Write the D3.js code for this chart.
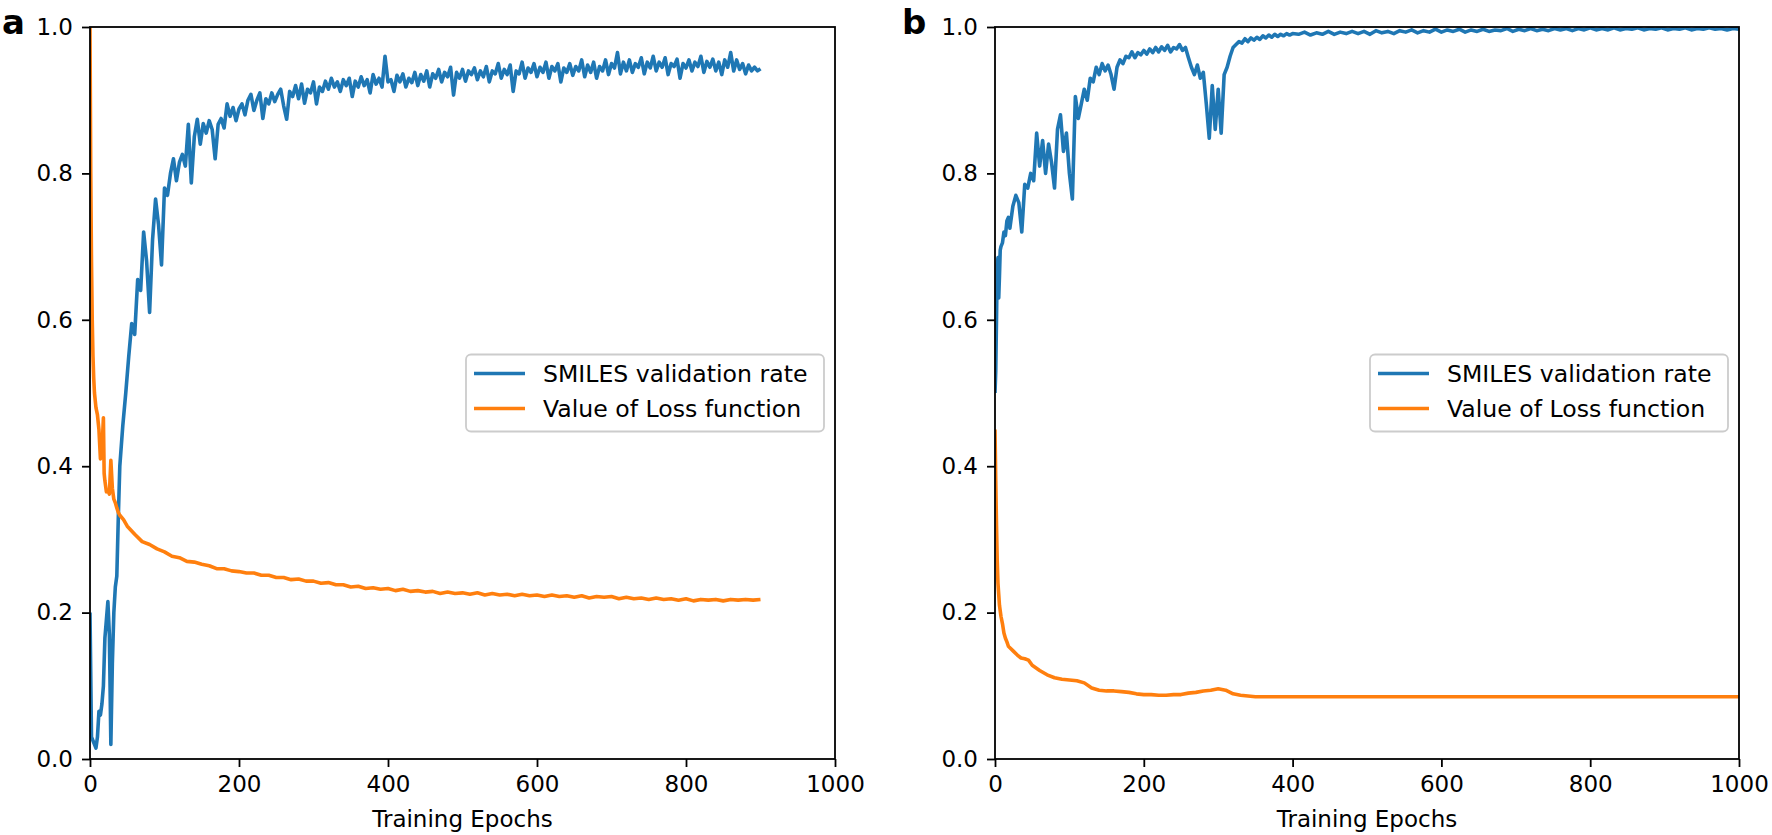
<!DOCTYPE html>
<html><head><meta charset="utf-8">
<script src="https://cdn.jsdelivr.net/npm/d3@7"></script>
<style>body{margin:0;background:#fff;} svg{display:block;} text{font-family:"DejaVu Sans",sans-serif;fill:#000;}</style>
</head><body><svg id="chart" width="1772" height="835"></svg>
<script>
// ---------- shared labels ----------
const xTicks = [0, 200, 400, 600, 800, 1000];
const yTicks = [0.0, 0.2, 0.4, 0.6, 0.8, 1.0];
const seriesNames = ["SMILES validation rate", "Value of Loss function"];
const seriesColors = ["#1f77b4", "#ff7f0e"];
const xAxisTitle = "Training Epochs";
const panelLabels = ["a", "b"];

// ---------- panel a : SMILES validation rate ----------
const valA_earlyEpochs = [0,2,4,6,8,10,12,14,16,18,20,22,24,26,28,30,32,34,36,38,40];
const valA_early = [0.20,0.03,0.025,0.02,0.015,0.03,0.065,0.06,0.075,0.10,0.165,0.19,0.215,0.17,0.02,0.13,0.20,0.235,0.25,0.33,0.40];
const valA_mainStart = 44, valA_mainStep = 4;
const valA_main = [
0.455,0.50,0.55,0.595,0.58,0.655,0.64,0.72,0.68,0.61,
0.71,0.765,0.73,0.675,0.78,0.77,0.80,0.82,0.79,0.815,
0.826,0.81,0.867,0.787,0.85,0.874,0.84,0.868,0.855,0.872,
0.86,0.82,0.867,0.875,0.862,0.895,0.878,0.89,0.872,0.888,
0.895,0.88,0.90,0.908,0.886,0.90,0.91,0.875,0.902,0.895,
0.91,0.898,0.908,0.915,0.892,0.874,0.912,0.905,0.92,0.902,
0.922,0.896,0.915,0.91,0.925,0.895,0.918,0.912,0.926,0.915,
0.93,0.918,0.925,0.912,0.928,0.92,0.93,0.905,0.926,0.918,
0.932,0.92,0.928,0.91,0.935,0.922,0.93,0.918,0.96,0.925,
0.928,0.912,0.934,0.925,0.936,0.918,0.93,0.924,0.938,0.92,
0.935,0.926,0.94,0.918,0.936,0.93,0.942,0.925,0.938,0.932,
0.945,0.907,0.938,0.93,0.942,0.926,0.94,0.935,0.944,0.928,
0.94,0.932,0.946,0.925,0.94,0.936,0.95,0.93,0.942,0.935,
0.948,0.912,0.94,0.936,0.952,0.93,0.944,0.938,0.95,0.932,
0.945,0.938,0.952,0.93,0.946,0.94,0.95,0.925,0.944,0.938,
0.95,0.934,0.946,0.94,0.955,0.932,0.948,0.938,0.952,0.93,
0.946,0.94,0.955,0.935,0.95,0.944,0.965,0.936,0.952,0.94,
0.955,0.938,0.95,0.945,0.958,0.936,0.952,0.944,0.96,0.94,
0.952,0.945,0.958,0.935,0.95,0.946,0.956,0.93,0.95,0.944,
0.955,0.94,0.952,0.946,0.96,0.938,0.953,0.945,0.956,0.94,
0.952,0.935,0.955,0.945,0.965,0.94,0.955,0.942,0.95,0.936,
0.948,0.94,0.945,0.94,0.943];

// ---------- panel a : loss ----------
const lossA_earlyEpochs = [0,1,2,3,4,5,6,8,10,12,14,16,18,19,20,22,24,26,28,30,32,34,36,38,40,45];
const lossA_early = [1.0,0.80,0.68,0.60,0.55,0.52,0.50,0.48,0.47,0.45,0.41,0.42,0.466,0.39,0.38,0.365,0.367,0.362,0.408,0.37,0.355,0.35,0.343,0.337,0.333,0.327];
const lossA_mainStart = 50, lossA_mainStep = 10;
const lossA_main = [
0.318,0.307,0.297,0.293,0.287,0.283,0.277,0.275,0.270,0.269,
0.266,0.264,0.260,0.260,0.257,0.256,0.254,0.254,0.251,0.251,
0.248,0.248,0.245,0.246,0.243,0.243,0.240,0.241,0.238,0.238,
0.235,0.236,0.233,0.234,0.232,0.233,0.230,0.232,0.229,0.230,
0.228,0.229,0.226,0.228,0.226,0.227,0.225,0.227,0.224,0.226,
0.224,0.225,0.223,0.225,0.223,0.224,0.222,0.224,0.222,0.223,
0.221,0.223,0.220,0.222,0.221,0.222,0.219,0.221,0.219,0.220,
0.218,0.220,0.218,0.219,0.217,0.219,0.216,0.218,0.217,0.218,
0.216,0.218,0.217,0.218,0.217,0.218];

// ---------- panel b : SMILES validation rate ----------
const valB_earlyEpochs = [0,1,2,3,4,5,6,7,8,10,12,14,16,18,20];
const valB_early = [0.50,0.53,0.60,0.675,0.685,0.63,0.66,0.695,0.70,0.705,0.72,0.715,0.735,0.74,0.725];
const valB_midStart = 24, valB_midStep = 4;
const valB_mid = [
0.755,0.77,0.76,0.72,0.785,0.78,0.80,0.79,0.855,0.81,
0.845,0.80,0.84,0.815,0.78,0.86,0.88,0.83,0.855,0.80,
0.765,0.905,0.875,0.895,0.915,0.90,0.93,0.925,0.945,0.935,
0.95,0.94,0.948,0.935,0.915,0.945,0.955,0.95,0.96,0.958,
0.966,0.958,0.965,0.962,0.968,0.963,0.97,0.965,0.972,0.966,
0.973,0.968,0.975,0.966,0.972,0.97,0.976,0.968,0.972,0.958,
0.945,0.935,0.948,0.93,0.938,0.895,0.848,0.92,0.86,0.915,
0.855,0.935,0.945,0.96,0.972,0.976,0.98,0.978,0.984,0.98,
0.985,0.982,0.986,0.983,0.988,0.985,0.989,0.986,0.99,0.987,
0.99,0.988,0.991,0.989,0.991];
const valB_lateStart = 408, valB_lateStep = 8;
const valB_late = [
0.99,0.993,0.989,0.992,0.99,0.994,0.99,0.993,0.991,0.994,
0.991,0.994,0.99,0.995,0.992,0.994,0.991,0.995,0.993,0.996,
0.992,0.995,0.993,0.997,0.993,0.996,0.994,0.997,0.993,0.996,
0.994,0.997,0.994,0.996,0.995,0.998,0.994,0.997,0.995,0.998,
0.995,0.997,0.995,0.998,0.996,0.998,0.995,0.998,0.996,0.999,
0.996,0.998,0.996,0.999,0.996,0.998,0.997,0.999,0.996,0.998,
0.997,0.999,0.996,0.998,0.997,0.999,0.996,0.998,0.997,0.999,
0.997,0.998,0.996,0.998,0.997];

// ---------- panel b : loss ----------
const lossB_earlyEpochs = [0,1,2,3,4,5,6,8,10,12,14,16,18,20,25,30,35,40,45,50];
const lossB_early = [0.45,0.38,0.32,0.27,0.24,0.225,0.21,0.195,0.185,0.172,0.165,0.16,0.154,0.152,0.147,0.142,0.138,0.137,0.135,0.128];
const lossB_mainStart = 60, lossB_mainStep = 10;
const lossB_main = [
0.121,0.115,0.111,0.109,0.108,0.107,0.104,0.097,0.094,0.093,
0.093,0.092,0.091,0.089,0.088,0.088,0.087,0.087,0.088,0.088,
0.090,0.091,0.093,0.094,0.096,0.094,0.089,0.087,0.086,0.085,
0.085,0.085,0.085,0.085,0.085,0.085,0.085,0.085,0.085,0.085,
0.085,0.085,0.085,0.085,0.085,0.085,0.085,0.085,0.085,0.085,
0.085,0.085,0.085,0.085,0.085,0.085,0.085,0.085,0.085,0.085,
0.085,0.085,0.085,0.085,0.085,0.085,0.085,0.085,0.085,0.085,
0.085,0.085,0.085,0.085,0.085,0.085,0.085,0.085,0.085,0.085,
0.085,0.085,0.085,0.085,0.085,0.085,0.085,0.085,0.085,0.085,
0.085,0.085,0.085,0.085,0.085];

// ---------- helpers ----------
function listSeg(epochs, values) { return values.map((v, i) => ({x: epochs[i], y: v})); }
function stepSeg(start, step, values) { return values.map((v, i) => ({x: start + i * step, y: v})); }

const panels = [
  { label: panelLabels[0], left: 90, right: 835, labelX: 2,
    series: [
      listSeg(valA_earlyEpochs, valA_early).concat(stepSeg(valA_mainStart, valA_mainStep, valA_main)),
      listSeg(lossA_earlyEpochs, lossA_early).concat(stepSeg(lossA_mainStart, lossA_mainStep, lossA_main))
    ]},
  { label: panelLabels[1], left: 995, right: 1739, labelX: 902,
    series: [
      listSeg(valB_earlyEpochs, valB_early).concat(stepSeg(valB_midStart, valB_midStep, valB_mid)).concat(stepSeg(valB_lateStart, valB_lateStep, valB_late)),
      listSeg(lossB_earlyEpochs, lossB_early).concat(stepSeg(lossB_mainStart, lossB_mainStep, lossB_main))
    ]}
];

const plotTop = 27, plotBottom = 759;
const fontPx = 23;
const svg = d3.select("#chart");

panels.forEach((p, pi) => {
  const x = d3.scaleLinear().domain([0, 1000]).range([p.left, p.right]);
  const y = d3.scaleLinear().domain([0, 1]).range([plotBottom, plotTop]);
  const g = svg.append("g");

  const clipId = "clip" + pi;
  g.append("clipPath").attr("id", clipId).append("rect")
    .attr("x", p.left).attr("y", plotTop).attr("width", p.right - p.left).attr("height", plotBottom - plotTop);

  const line = d3.line().x(d => x(d.x)).y(d => y(d.y));
  const lines = g.append("g").attr("clip-path", `url(#${clipId})`);
  p.series.forEach((s, si) => {
    lines.append("path").datum(s).attr("d", line)
      .attr("fill", "none").attr("stroke", seriesColors[si])
      .attr("stroke-width", 3.6).attr("stroke-linejoin", "round").attr("stroke-linecap", "butt");
  });

  const xa = g.append("g").attr("transform", `translate(0,${plotBottom})`)
    .call(d3.axisBottom(x).tickValues(xTicks).tickFormat(d3.format("d")).tickSize(8).tickPadding(9));
  const ya = g.append("g").attr("transform", `translate(${p.left},0)`)
    .call(d3.axisLeft(y).tickValues(yTicks).tickFormat(d3.format(".1f")).tickSize(8).tickPadding(9));
  [xa, ya].forEach(a => {
    a.select(".domain").remove();
    a.selectAll(".tick line").attr("stroke", "#000").attr("stroke-width", 1.8);
    a.selectAll(".tick text").attr("font-size", fontPx).attr("font-family", "DejaVu Sans").attr("fill", "#000");
  });

  g.append("rect").attr("x", p.left).attr("y", plotTop).attr("width", p.right - p.left).attr("height", plotBottom - plotTop)
    .attr("fill", "none").attr("stroke", "#000").attr("stroke-width", 1.8);

  g.append("text").attr("x", (p.left + p.right) / 2).attr("y", 827)
    .attr("text-anchor", "middle").attr("font-size", fontPx).text(xAxisTitle);

  g.append("text").attr("x", p.labelX).attr("y", 34)
    .attr("font-size", 34).attr("font-weight", "bold").text(p.label);

  const lw = 358, lh = 77;
  const lx = p.right - 11 - lw, ly = (plotTop + plotBottom) / 2 - lh / 2;
  const leg = g.append("g").attr("transform", `translate(${lx},${ly})`);
  leg.append("rect").attr("width", lw).attr("height", lh).attr("rx", 5).attr("ry", 5)
    .attr("fill", "#fff").attr("fill-opacity", 0.8).attr("stroke", "#cccccc").attr("stroke-width", 1.8);
  seriesNames.forEach((name, i) => {
    const ry = 19 + i * 35;
    leg.append("line").attr("x1", 8).attr("x2", 59).attr("y1", ry).attr("y2", ry)
      .attr("stroke", seriesColors[i]).attr("stroke-width", 3.6);
    leg.append("text").attr("x", 77).attr("y", ry).attr("dy", "0.36em")
      .attr("font-size", 23.6).text(name);
  });
});
</script>
</body></html>
